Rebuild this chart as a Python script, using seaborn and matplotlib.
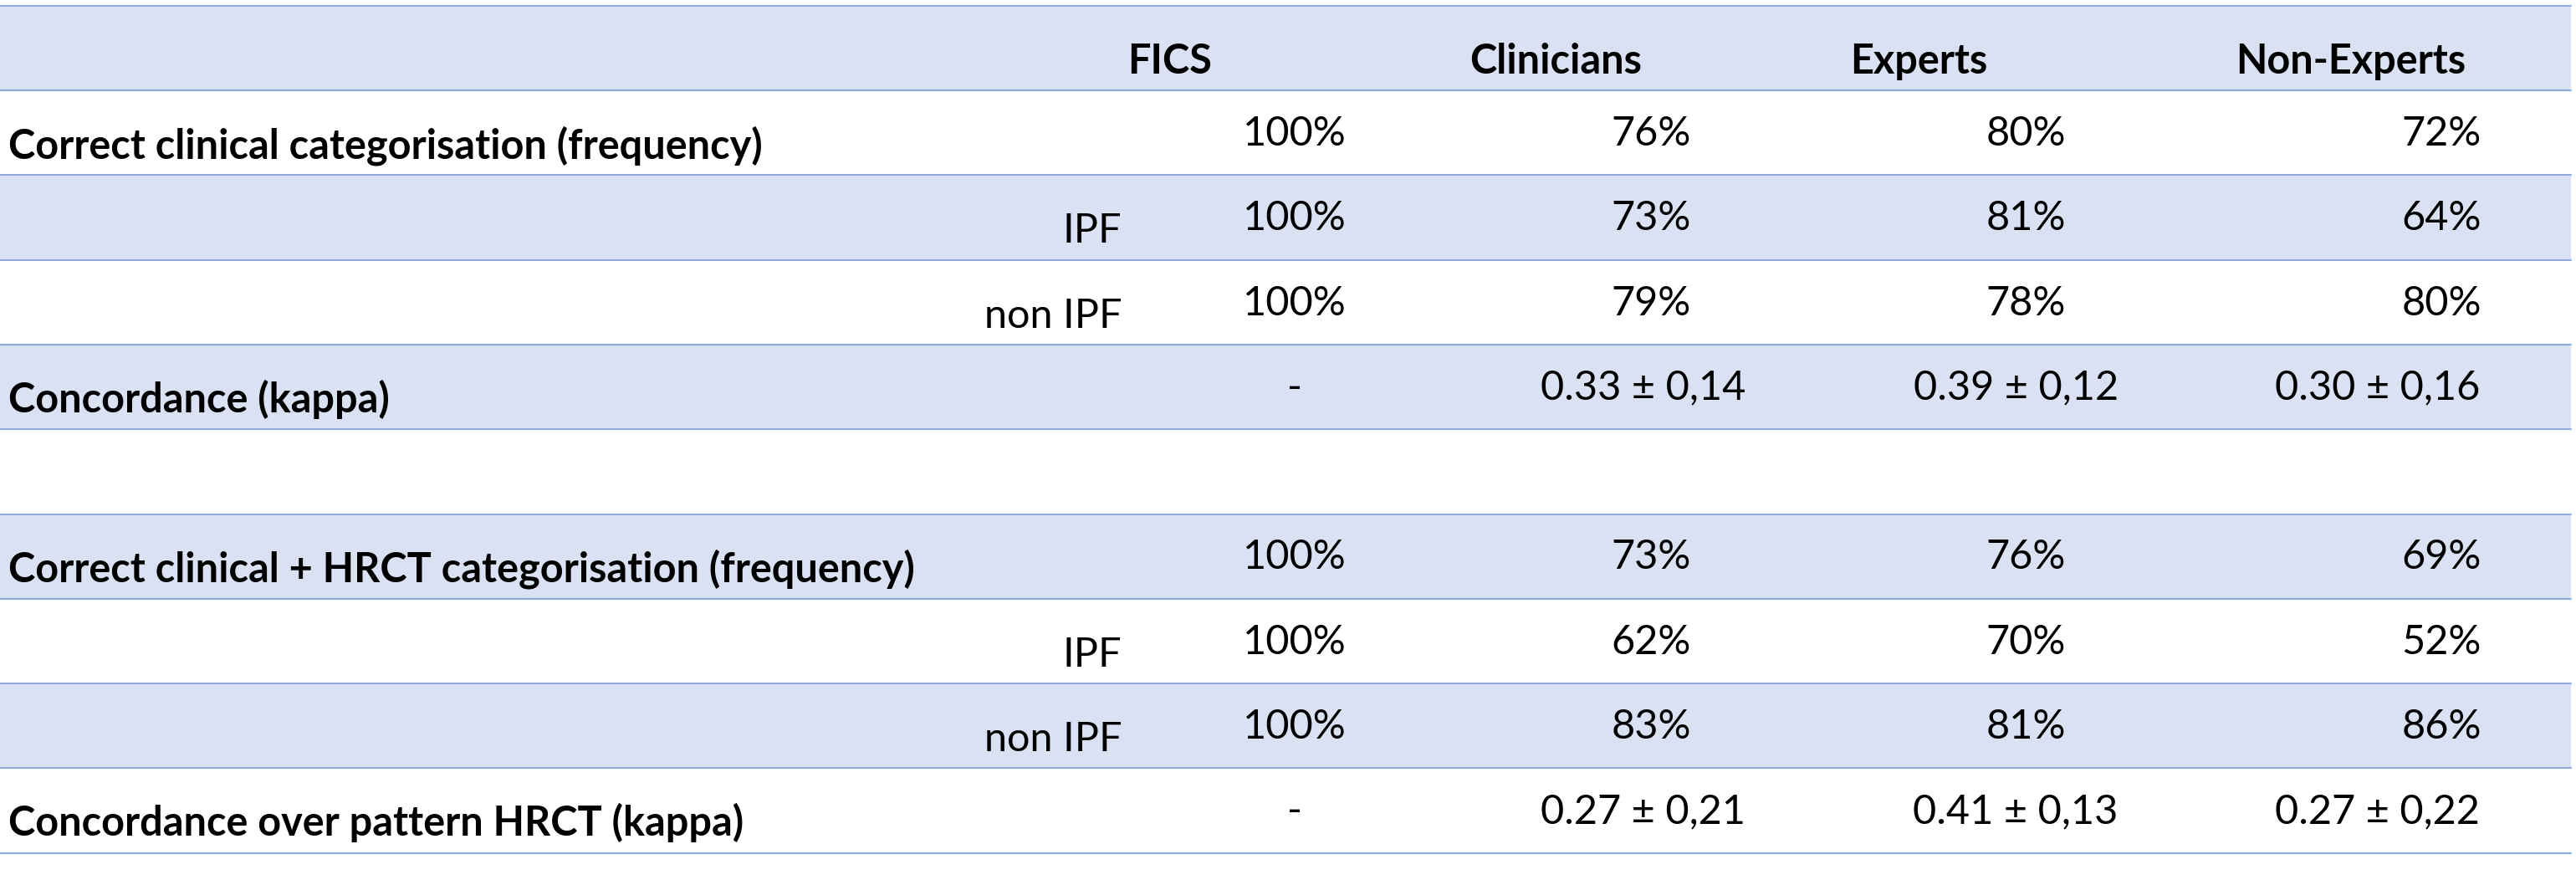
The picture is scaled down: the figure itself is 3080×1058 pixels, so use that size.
import matplotlib.pyplot as plt
import seaborn as sns

sns.set_theme(style="white")
plt.rcParams['font.family'] = ['Lato', 'DejaVu Sans']

# table contents
headers = ["FICS", "Clinicians", "Experts", "Non-Experts"]
row_labels = ["Correct clinical categorisation (frequency)", "", "", "Concordance (kappa)", "",
              "Correct clinical + HRCT categorisation (frequency)", "", "", "Concordance over pattern HRCT (kappa)"]
sub_labels = ["", "IPF", "non IPF", "", "", "", "IPF", "non IPF", ""]
fics = ["100%", "100%", "100%", "-", "", "100%", "100%", "100%", "-"]
clinicians = ["76%", "73%", "79%", "0.33 ± 0,14", "", "73%", "62%", "83%", "0.27 ± 0,21"]
experts = ["80%", "81%", "78%", "0.39 ± 0,12", "", "76%", "70%", "81%", "0.41 ± 0,13"]
non_experts = ["72%", "64%", "80%", "0.30 ± 0,16", "", "69%", "52%", "86%", "0.27 ± 0,22"]

fig = plt.figure(figsize=(30.8, 10.58), dpi=100)
ax = fig.add_axes([0, 0, 1, 1])
ax.set_xlim(0, 1568)
ax.set_ylim(538, 0)
ax.axis("off")

top, rh = 3.5, 51.5
band = "#d9e1f2"
line = "#8ea9db"
n = len(row_labels) + 1
for i in range(n):
    y0 = top + i * rh
    if i % 2 == 0:
        ax.barh(y0 + rh / 2, 1565, height=rh, left=0, color=band, edgecolor="none")
    ax.plot([0, 1565], [y0, y0], color=line, lw=1.5)
ax.plot([0, 1565], [top + n * rh] * 2, color=line, lw=1.5)

fs = 35
hx = [712, 947, 1168, 1431]
for x, h in zip(hx, headers):
    ax.text(x, top + rh * 0.8, h, ha="center", va="baseline", fontsize=fs, fontweight="bold", color="black")

pct_x = [788, 1005, 1233, 1486]
kap_x = [788, 1000, 1227, 1447]
for r in range(len(row_labels)):
    y0 = top + (r + 1) * rh
    if row_labels[r]:
        ax.text(5, y0 + rh * 0.8, row_labels[r], ha="left", va="baseline", fontsize=fs, fontweight="bold", color="black")
    if sub_labels[r]:
        ax.text(683, y0 + rh * 0.8, sub_labels[r], ha="right", va="baseline", fontsize=fs, color="black")
    vals = [fics[r], clinicians[r], experts[r], non_experts[r]]
    xs = kap_x if "±" in clinicians[r] else pct_x
    for x, v in zip(xs, vals):
        if v:
            ax.text(x, y0 + rh * 0.65, v, ha="center", va="baseline", fontsize=fs, color="black")

fig.savefig("out.png", dpi=100, facecolor="white")
